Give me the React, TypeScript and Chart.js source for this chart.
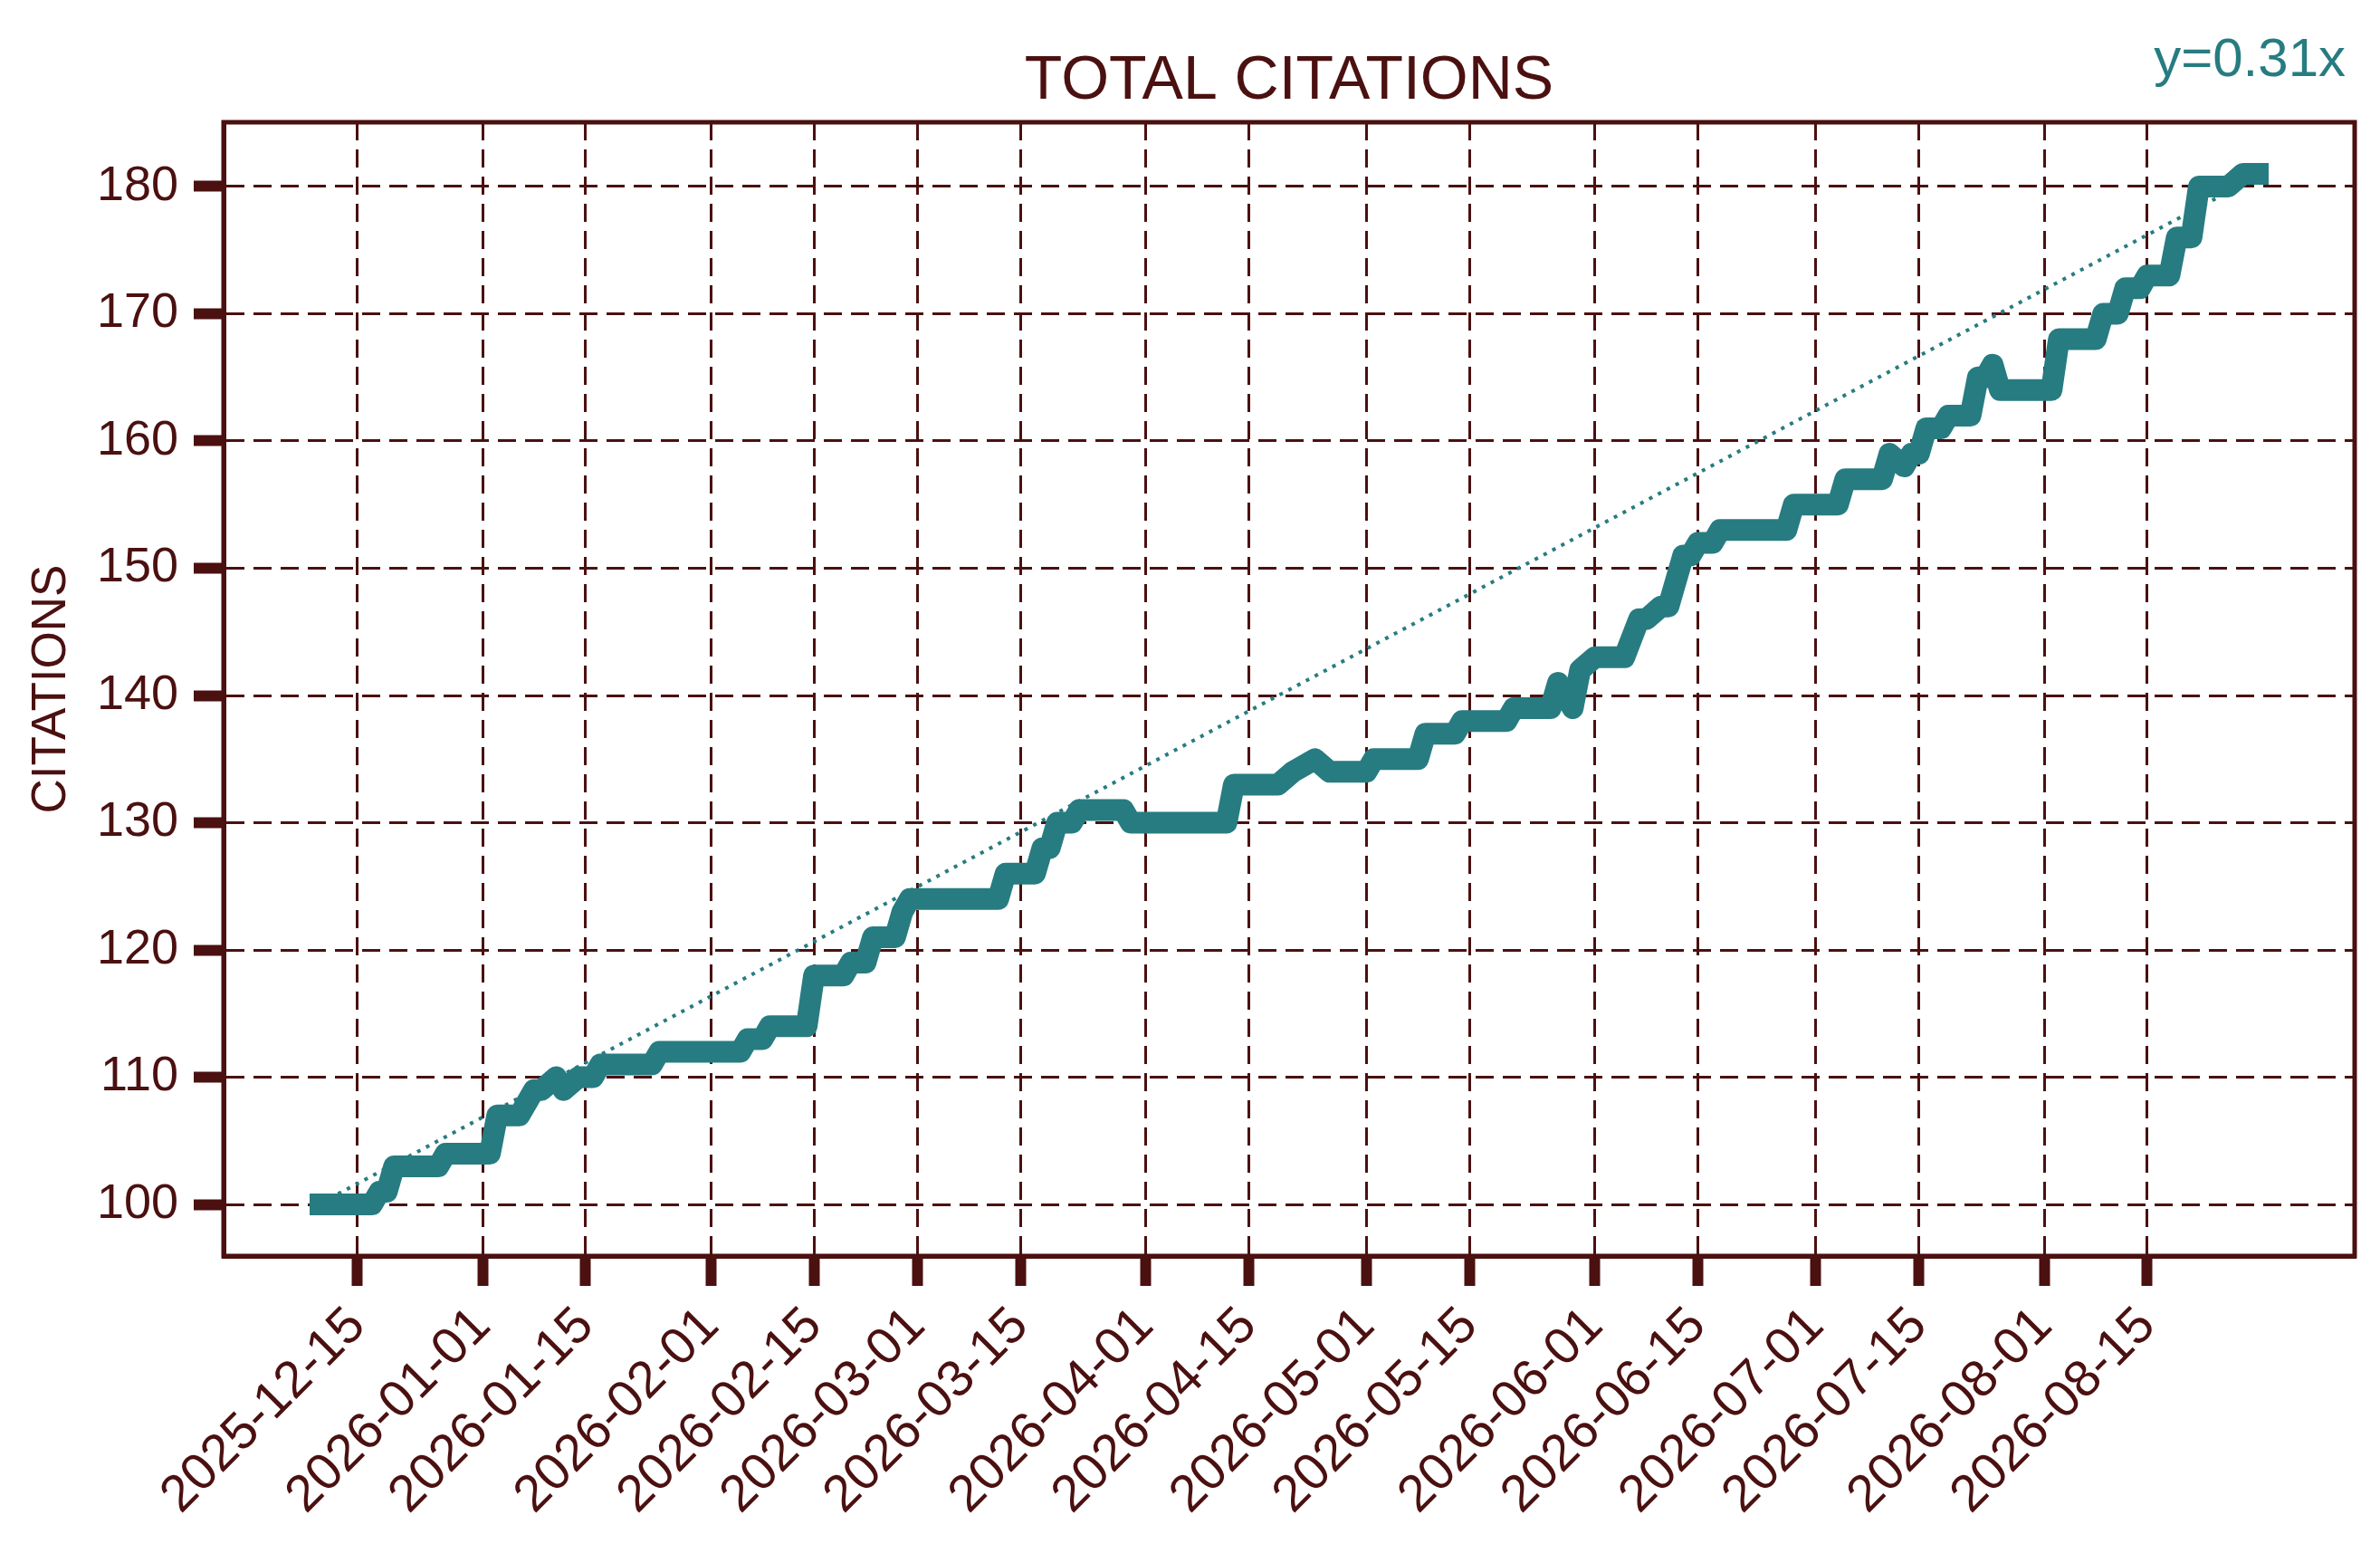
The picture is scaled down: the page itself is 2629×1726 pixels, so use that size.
import React, { useEffect, useRef } from 'react';
import { Chart, registerables } from 'chart.js';

Chart.register(...registerables);

// ---------------- data ----------------
const chartTitle = 'TOTAL CITATIONS';
const yAxisTitle = 'CITATIONS';
const trendSlope = 0.31;

const citationDates = [
  '2025-12-10', '2025-12-17', '2025-12-18', '2025-12-19', '2025-12-20', '2025-12-26', '2025-12-27',
  '2026-01-02', '2026-01-03', '2026-01-06', '2026-01-08', '2026-01-09', '2026-01-11', '2026-01-12', '2026-01-14', '2026-01-16', '2026-01-17', '2026-01-24', '2026-01-25',
  '2026-02-05', '2026-02-06', '2026-02-08', '2026-02-09', '2026-02-14', '2026-02-15', '2026-02-19', '2026-02-20', '2026-02-22', '2026-02-23', '2026-02-26', '2026-02-27', '2026-02-28',
  '2026-03-12', '2026-03-13', '2026-03-17', '2026-03-18', '2026-03-19', '2026-03-20', '2026-03-22', '2026-03-23', '2026-03-29', '2026-03-30',
  '2026-04-12', '2026-04-13', '2026-04-19', '2026-04-21', '2026-04-24', '2026-04-26',
  '2026-05-01', '2026-05-02', '2026-05-08', '2026-05-09', '2026-05-13', '2026-05-14', '2026-05-20', '2026-05-21', '2026-05-26', '2026-05-27', '2026-05-29', '2026-05-30',
  '2026-06-01', '2026-06-05', '2026-06-07', '2026-06-08', '2026-06-10', '2026-06-11', '2026-06-13', '2026-06-14', '2026-06-15', '2026-06-17', '2026-06-18', '2026-06-27', '2026-06-28',
  '2026-07-04', '2026-07-05', '2026-07-10', '2026-07-11', '2026-07-13', '2026-07-14', '2026-07-15', '2026-07-16', '2026-07-18', '2026-07-19', '2026-07-22', '2026-07-23', '2026-07-24', '2026-07-25', '2026-07-26',
  '2026-08-02', '2026-08-03', '2026-08-08', '2026-08-09', '2026-08-11', '2026-08-12', '2026-08-14', '2026-08-15', '2026-08-18', '2026-08-19', '2026-08-21', '2026-08-22', '2026-08-26', '2026-08-28', '2026-08-30',
];

const citationValues = [
  100, 100, 101, 101, 103, 103, 104,
  104, 107, 107, 109, 109, 110, 109, 110, 110, 111, 111, 112,
  112, 113, 113, 114, 114, 118, 118, 119, 119, 121, 121, 123, 124,
  124, 126, 126, 128, 128, 130, 130, 131, 131, 130,
  130, 133, 133, 134, 135, 134,
  134, 135, 135, 137, 137, 138, 138, 139, 139, 141, 139, 142,
  143, 143, 146, 146, 147, 147, 151, 151, 152, 152, 153, 153, 155,
  155, 157, 157, 159, 158, 159, 159, 161, 161, 162, 162, 165, 165, 166, 164,
  164, 168, 168, 170, 170, 172, 172, 173, 173, 176, 176, 180, 180, 181, 181,
];

const trendDates = ['2025-12-10', '2026-08-30'];
const trendValues = [100.1, 180.8];

const xTickLabels = [
  '2025-12-15', '2026-01-01', '2026-01-15', '2026-02-01', '2026-02-15', '2026-03-01',
  '2026-03-15', '2026-04-01', '2026-04-15', '2026-05-01', '2026-05-15', '2026-06-01',
  '2026-06-15', '2026-07-01', '2026-07-15', '2026-08-01', '2026-08-15',
];
const yTickValues = [100, 110, 120, 130, 140, 150, 160, 170, 180];

// ---------------- style ----------------
const MAROON = '#4b1010';
const TEAL = '#277c81';
const FONT = '"Liberation Sans", Arial, sans-serif';

const toDay = (s: string) => {
  const [y, m, d] = s.split('-').map(Number);
  return Date.UTC(y, m - 1, d) / 86400000;
};
const fmtDay = (v: number) => new Date(Math.round(v) * 86400000).toISOString().slice(0, 10);

export default function App() {
  const ref = useRef<HTMLCanvasElement>(null);

  useEffect(() => {
    const canvas = ref.current;
    if (!canvas) return;

    const pts = citationDates.map((d, i) => ({ x: toDay(d), y: citationValues[i] }));
    const trend = trendDates.map((d, i) => ({ x: toDay(d), y: trendValues[i] }));
    const xs = pts.map((p) => p.x);
    const xMin = Math.min(...xs);
    const xMax = Math.max(...xs);
    const yMin = Math.min(...citationValues);
    const yMax = Math.max(...citationValues);
    const mx = (xMax - xMin) * 0.05;
    const my = (yMax - yMin) * 0.05;

    const decor = {
      id: 'decor',
      beforeDatasetsDraw(chart: any) {
        const { ctx, chartArea } = chart;
        ctx.save();
        ctx.strokeStyle = MAROON;
        ctx.lineWidth = 5;
        ctx.setLineDash([]);
        ctx.strokeRect(chartArea.left, chartArea.top, chartArea.right - chartArea.left, chartArea.bottom - chartArea.top);
        ctx.restore();
      },
      afterDraw(chart: any) {
        const { ctx, chartArea } = chart;
        ctx.save();
        ctx.fillStyle = MAROON;
        ctx.font = `68px ${FONT}`;
        ctx.textAlign = 'center';
        ctx.textBaseline = 'alphabetic';
        ctx.fillText(chartTitle, (chartArea.left + chartArea.right) / 2, 109);

        ctx.save();
        ctx.translate(53, (chartArea.top + chartArea.bottom) / 2);
        ctx.rotate(-Math.PI / 2);
        ctx.font = `53px ${FONT}`;
        ctx.textAlign = 'center';
        ctx.fillText(yAxisTitle, 0, 19);
        ctx.restore();

        ctx.fillStyle = TEAL;
        ctx.font = `60px ${FONT}`;
        ctx.textAlign = 'right';
        ctx.fillText(`y=${trendSlope}x`, 2591, 84);
        ctx.restore();
      },
    };

    const gridOpts = {
      color: MAROON,
      lineWidth: 3,
      drawTicks: true,
      tickLength: 33,
      tickWidth: 12,
      tickColor: MAROON,
    };
    const borderOpts = { display: true, color: MAROON, width: 5, dash: [20, 10] };

    const chart = new Chart(canvas, {
      type: 'line',
      data: {
        datasets: [
          {
            label: 'Citations',
            data: pts,
            borderColor: TEAL,
            borderWidth: 24,
            borderJoinStyle: 'round',
            borderCapStyle: 'square',
            pointRadius: 0,
            tension: 0,
            order: 0,
          },
          {
            label: 'Trend',
            data: trend,
            borderColor: TEAL,
            borderWidth: 4,
            borderDash: [4, 7],
            borderCapStyle: 'butt',
            pointRadius: 0,
            tension: 0,
            order: 1,
          },
        ],
      },
      options: {
        animation: false,
        responsive: false,
        devicePixelRatio: 1,
        layout: { padding: { top: 135, right: 28, left: 0, bottom: 0 } },
        plugins: {
          legend: { display: false },
          tooltip: { enabled: false },
          title: { display: false },
        },
        scales: {
          x: {
            type: 'linear',
            min: xMin - mx,
            max: xMax + mx,
            afterBuildTicks: (s: any) => {
              s.ticks = xTickLabels.map((d) => ({ value: toDay(d) }));
            },
            afterFit: (s: any) => {
              s.height = 339;
            },
            ticks: {
              autoSkip: false,
              maxRotation: 45,
              minRotation: 45,
              color: MAROON,
              font: { family: FONT, size: 57 },
              padding: 11,
              callback: (v: any) => fmtDay(Number(v)),
            },
            grid: gridOpts,
            border: borderOpts,
          },
          y: {
            type: 'linear',
            min: yMin - my,
            max: yMax + my,
            afterBuildTicks: (s: any) => {
              s.ticks = yTickValues.map((v) => ({ value: v }));
            },
            afterFit: (s: any) => {
              s.width = 247;
            },
            ticks: {
              color: MAROON,
              font: { family: FONT, size: 54 },
              padding: 17,
            },
            grid: gridOpts,
            border: borderOpts,
          },
        },
      },
      plugins: [decor],
    } as any);

    return () => chart.destroy();
  }, []);

  return (
    <div style={{ position: 'absolute', left: 0, top: 0, width: 2629, height: 1726, background: '#ffffff' }}>
      <canvas ref={ref} width={2629} height={1726} style={{ width: 2629, height: 1726, display: 'block' }} />
    </div>
  );
}
